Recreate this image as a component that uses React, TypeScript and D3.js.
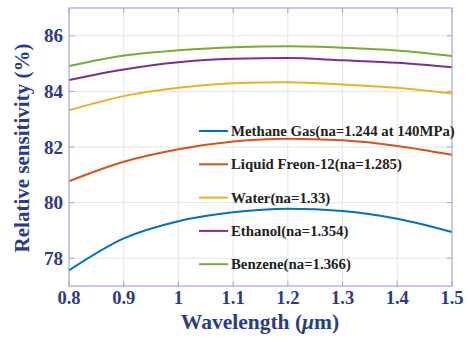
import React, { useRef, useEffect } from "react";
import * as d3 from "d3";

const wavelengths = [0.8, 0.9, 1.0, 1.1, 1.2, 1.3, 1.4, 1.5];
const methane = [77.56, 78.71, 79.33, 79.65, 79.78, 79.7, 79.42, 78.94];
const freon = [80.77, 81.47, 81.92, 82.2, 82.3, 82.24, 82.04, 81.72];
const water = [83.32, 83.83, 84.13, 84.29, 84.33, 84.25, 84.13, 83.92];
const ethanol = [84.41, 84.79, 85.05, 85.17, 85.2, 85.12, 85.03, 84.87];
const benzene = [84.91, 85.29, 85.48, 85.59, 85.62, 85.57, 85.47, 85.27];

const seriesNames = [
  "Methane Gas(na=1.244 at 140MPa)",
  "Liquid Freon-12(na=1.285)",
  "Water(na=1.33)",
  "Ethanol(na=1.354)",
  "Benzene(na=1.366)",
];
const seriesValues = [methane, freon, water, ethanol, benzene];
const colors = ["#0072BD", "#D95319", "#EDB120", "#7E2F8E", "#77AC30"];

const xTicks = [0.8, 0.9, 1.0, 1.1, 1.2, 1.3, 1.4, 1.5];
const yTicks = [78, 80, 82, 84, 86];

const W = 470;
const H = 341;
const m = { left: 69, top: 8, right: 18, bottom: 55 };
const FONT = "Times New Roman, Liberation Serif, Tinos, Noto Serif, DejaVu Serif, serif";

const App = () => {
  const ref = useRef<SVGSVGElement>(null);

  useEffect(() => {
    const svg = d3.select(ref.current);
    svg.selectAll("*").remove();

    const x = d3.scaleLinear().domain([0.8, 1.5]).range([m.left, W - m.right]);
    const y = d3.scaleLinear().domain([77, 87]).range([H - m.bottom, m.top]);
    const blue = "#2b3990";
    const axisColor = "#a3a3dc";

    // grid
    const g = svg.append("g");
    g.selectAll(".gx")
      .data(xTicks.slice(1, -1))
      .join("line")
      .attr("x1", (d) => x(d))
      .attr("x2", (d) => x(d))
      .attr("y1", m.top)
      .attr("y2", H - m.bottom)
      .attr("stroke", "#e3e3f5");
    g.selectAll(".gy")
      .data(yTicks)
      .join("line")
      .attr("x1", m.left)
      .attr("x2", W - m.right)
      .attr("y1", (d) => y(d))
      .attr("y2", (d) => y(d))
      .attr("stroke", "#e3e3f5");

    // tick marks (inside)
    xTicks.forEach((t) => {
      g.append("line")
        .attr("x1", x(t)).attr("x2", x(t))
        .attr("y1", H - m.bottom).attr("y2", H - m.bottom - 5)
        .attr("stroke", axisColor);
      g.append("line")
        .attr("x1", x(t)).attr("x2", x(t))
        .attr("y1", m.top).attr("y2", m.top + 5)
        .attr("stroke", axisColor);
    });
    yTicks.forEach((t) => {
      g.append("line")
        .attr("x1", m.left).attr("x2", m.left + 5)
        .attr("y1", y(t)).attr("y2", y(t))
        .attr("stroke", axisColor);
      g.append("line")
        .attr("x1", W - m.right).attr("x2", W - m.right - 5)
        .attr("y1", y(t)).attr("y2", y(t))
        .attr("stroke", axisColor);
    });

    // lines
    const line = d3
      .line<number>()
      .x((d, i) => x(wavelengths[i]))
      .y((d) => y(d))
      .curve(d3.curveMonotoneX);

    seriesValues.forEach((vals, i) => {
      svg.append("path")
        .attr("d", line(vals))
        .attr("fill", "none")
        .attr("stroke", colors[i])
        .attr("stroke-width", 2);
    });

    // box
    svg.append("rect")
      .attr("x", m.left)
      .attr("y", m.top)
      .attr("width", W - m.right - m.left)
      .attr("height", H - m.bottom - m.top)
      .attr("fill", "none")
      .attr("stroke", axisColor)
      .attr("stroke-width", 1.2);

    // tick labels
    svg.selectAll(".xl")
      .data(xTicks)
      .join("text")
      .attr("x", (d) => x(d))
      .attr("y", 304)
      .attr("text-anchor", "middle")
      .attr("font-family", FONT)
      .attr("font-weight", "bold")
      .attr("font-size", 18.5)
      .attr("fill", blue)
      .text((d) => String(+d.toFixed(1)));
    svg.selectAll(".yl")
      .data(yTicks)
      .join("text")
      .attr("x", m.left - 6)
      .attr("y", (d) => y(d) + 6.5)
      .attr("text-anchor", "end")
      .attr("font-family", FONT)
      .attr("font-weight", "bold")
      .attr("font-size", 19)
      .attr("fill", blue)
      .text((d) => d);

    // axis titles
    const xt = svg.append("text")
      .attr("x", 260)
      .attr("y", 329)
      .attr("text-anchor", "middle")
      .attr("font-family", FONT)
      .attr("font-weight", "bold")
      .attr("font-size", 21.5)
      .attr("fill", blue);
    xt.append("tspan").text("Wavelength (");
    xt.append("tspan").attr("font-style", "italic").text("\u03bc");
    xt.append("tspan").text("m)");

    svg.append("text")
      .attr("transform", `translate(29,148) rotate(-90)`)
      .attr("text-anchor", "middle")
      .attr("font-family", FONT)
      .attr("font-weight", "bold")
      .attr("font-size", 21)
      .attr("fill", blue)
      .text("Relative sensitivity (%)");

    // legend
    const lg = svg.append("g");
    seriesNames.forEach((name, i) => {
      const ly = 131 + i * 33.3;
      lg.append("line")
        .attr("x1", 199).attr("x2", 228)
        .attr("y1", ly).attr("y2", ly)
        .attr("stroke", colors[i])
        .attr("stroke-width", 2);
      lg.append("text")
        .attr("x", 231)
        .attr("y", ly + 5)
        .attr("font-family", FONT)
        .attr("font-weight", "bold")
        .attr("font-size", 14.8)
        .attr("fill", "#222")
        .text(name);
    });
  }, []);

  return <svg ref={ref} width={W} height={H} style={{ position: "absolute", left: 0, top: 0 }} />;
};

export default App;
